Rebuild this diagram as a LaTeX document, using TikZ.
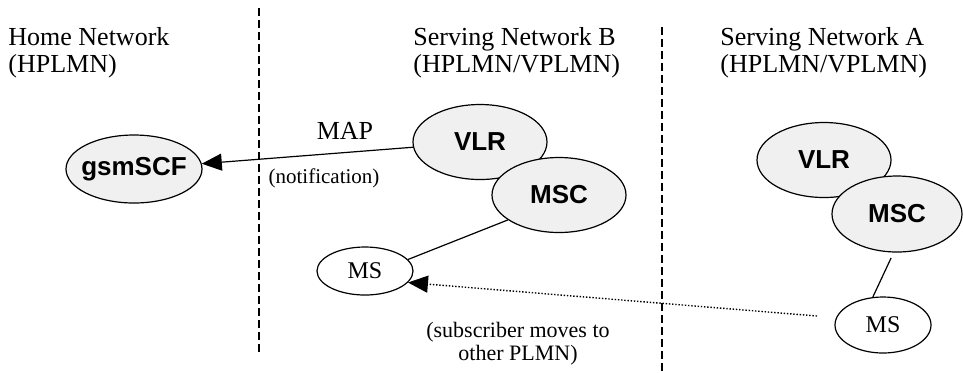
\documentclass[tikz,border=0pt]{standalone}
\usepackage{fontspec}
\setmainfont{Liberation Serif}
\setsansfont{Liberation Sans}
\usetikzlibrary{shapes.geometric,arrows.meta}
\begin{document}
\begin{tikzpicture}[x=0.5pt,y=-0.5pt,
  netbox/.style={ellipse,draw,line width=0.6pt,fill=black!6,inner sep=0pt,
    font=\sffamily\bfseries\fontsize{13}{13}\selectfont},
  msbox/.style={ellipse,draw,line width=0.6pt,fill=white,inner sep=0pt,
    font=\fontsize{12}{12}\selectfont},
  title/.style={align=left,anchor=north west,inner sep=0pt,
    font=\fontsize{13}{13.5}\selectfont},
  small/.style={inner sep=0pt,font=\fontsize{10.5}{11.5}\selectfont},
  border/.style={dash pattern=on 4pt off 2pt,line width=0.75pt},
  conn/.style={line width=0.6pt},
  tip/.style={-{Triangle[length=10pt,width=8.5pt]}}
]
\useasboundingbox (0,0) rectangle (963,372);
% dividers
\coordinate (d1t) at (259,8);
\coordinate (d1b) at (259,353);
\coordinate (d2t) at (662,27);
\coordinate (d2b) at (662,372);
\draw[border] (d1t) -- (d1b);
\draw[border] (d2t) -- (d2b);
% titles
\node[title] (home) at (8,27) {Home Network\\(HPLMN)};
\node[title] (servB) at (413,27) {Serving Network B\\(HPLMN/VPLMN)};
\node[title] (servA) at (720,27) {Serving Network A\\(HPLMN/VPLMN)};
% nodes
\node[netbox,minimum width=68pt,minimum height=34pt] (gsm) at (134,169) {\makebox[0pt]{gsmSCF}};
\node[netbox,minimum width=67pt,minimum height=37.5pt] (vlrB) at (480,142) {\makebox[0pt]{VLR}};
\node[netbox,minimum width=67pt,minimum height=37.5pt] (mscB) at (559,195) {\makebox[0pt]{MSC}};
\node[msbox,minimum width=48pt,minimum height=24pt] (msB) at (365,271) {\makebox[0pt]{MS}};
\node[netbox,minimum width=67pt,minimum height=37.5pt] (vlrA) at (824,160) {\makebox[0pt]{VLR}};
\node[netbox,minimum width=65pt,minimum height=38pt] (mscA) at (897,214) {\makebox[0pt]{MSC}};
\node[msbox,minimum width=48pt,minimum height=28pt] (msA) at (883,325) {\makebox[0pt]{MS}};
% connectors
\draw[conn,tip] (vlrB) -- (gsm);
\node[font=\fontsize{13}{13}\selectfont,inner sep=0pt] (map) at (345,131) {MAP};
\node[small] (notif) at (324,178) {(notification)};
\draw[conn] (mscB.206) -- (msB.15);
\draw[conn,shorten <=3pt] (mscA.-95) -- (msA.110);
\coordinate (dotStart) at (817,316);
\draw[tip,line width=0.7pt,dash pattern=on 0.7pt off 0.9pt] (dotStart) -- (msB.-15);
\node[small,align=center,font=\fontsize{11}{11.5}\selectfont] (moves) at (518,344) {(subscriber moves to\\other PLMN)};
\end{tikzpicture}
\end{document}
